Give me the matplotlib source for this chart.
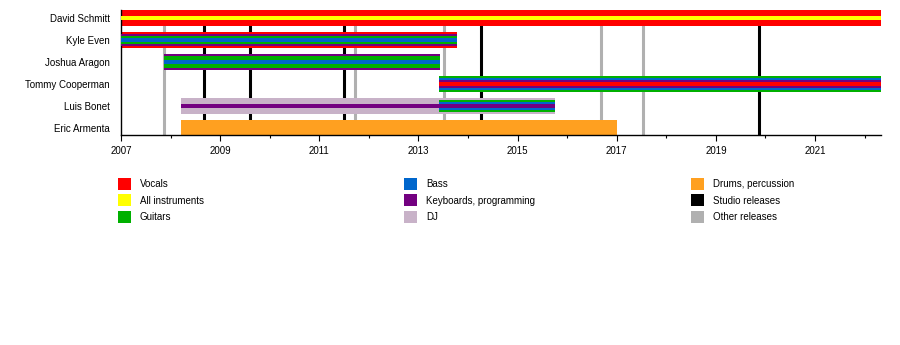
import matplotlib

matplotlib.use("Agg")
import matplotlib.pyplot as plt
from matplotlib.patches import Rectangle

plt.rcParams["font.family"] = ["Liberation Sans", "DejaVu Sans"]

# members, top to bottom
members = ["David Schmitt", "Kyle Even", "Joshua Aragon", "Tommy Cooperman", "Luis Bonet", "Eric Armenta"]

END = 2022.33

# stints per member, listed outer bar -> inner bar: (role, start, end)
stints = {
    "David Schmitt": [("Vocals", 2007.0, END), ("All instruments", 2007.0, END)],
    "Kyle Even": [("Vocals", 2007.0, 2013.77), ("Keyboards", 2007.0, 2013.77),
                  ("Guitars", 2007.0, 2013.77), ("Bass", 2007.0, 2013.77)],
    "Joshua Aragon": [("Keyboards", 2007.87, 2013.44), ("Guitars", 2007.87, 2013.44),
                      ("Bass", 2007.87, 2013.44)],
    "Tommy Cooperman": [("Guitars", 2013.42, END), ("Bass", 2013.42, END),
                        ("Keyboards", 2013.42, END), ("Vocals", 2013.42, END)],
    "Luis Bonet": [("DJ", 2008.21, 2015.76), ("Guitars", 2013.42, 2015.76),
                   ("Bass", 2013.42, 2015.76), ("Keyboards", 2008.21, 2015.76)],
    "Eric Armenta": [("Drums", 2008.21, 2017.0)],
}

studio_releases = [2008.68, 2009.61, 2011.50, 2014.27, 2019.86]
other_releases = [2007.87, 2011.73, 2013.51, 2016.69, 2017.52]

role_colors = {
    "Vocals": "#ff0000",
    "All instruments": "#ffff00",
    "Guitars": "#00b000",
    "Bass": "#0066cc",
    "Keyboards": "#730080",
    "DJ": "#c8b2c8",
    "Drums": "#ffa020",
}

legend_labels = ["Vocals", "All instruments", "Guitars", "Bass", "Keyboards, programming", "DJ",
                 "Drums, percussion", "Studio releases", "Other releases"]
legend_colors = ["#ff0000", "#ffff00", "#00b000", "#0066cc", "#730080", "#c8b2c8",
                 "#ffa020", "#000000", "#b0b0b0"]

layer_h = [0.74, 0.56, 0.39, 0.2]

fig = plt.figure(figsize=(9, 3.45), dpi=100)
W, H = 900, 345
ax = fig.add_axes([121 / W, 1 - 135 / H, (881 - 121) / W, (135 - 10) / H])

for x in studio_releases:
    ax.axvline(x, color="black", lw=2.2, zorder=1)
for x in other_releases:
    ax.axvline(x, color="#b0b0b0", lw=2.2, zorder=1)

for i, m in enumerate(members):
    rows = stints[m]
    n = len(rows)
    for k, (role, s, e) in enumerate(rows):
        # innermost role gets the thinnest stripe
        layer = 3 if (k == n - 1 and n > 1) else k
        ax.barh(i, e - s, left=s, height=layer_h[layer], color=role_colors[role],
                linewidth=0, zorder=2 + k)

ax.set_xlim(2007, END)
ax.set_ylim(5.32, -0.36)
ax.set_yticks(range(len(members)))
ax.set_yticklabels(members, fontsize=7)
ax.tick_params(axis="y", length=0, pad=8)
ax.set_xticks(range(2007, 2023, 2))
ax.set_xticks(range(2008, 2023, 2), minor=True)
ax.tick_params(axis="x", which="major", length=4, width=0.8, labelsize=7, pad=4)
ax.tick_params(axis="x", which="minor", length=2, width=0.8)
for side in ["top", "right"]:
    ax.spines[side].set_visible(False)
for side in ["left", "bottom"]:
    ax.spines[side].set_linewidth(1.0)

# legend, 3 columns x 3 rows
col_x = [118, 404, 691]
row_y = [184, 200.5, 217]
for j, (lab, col) in enumerate(zip(legend_labels, legend_colors)):
    cx = col_x[j // 3]
    cy = row_y[j % 3]
    fig.add_artist(Rectangle((cx / W, 1 - (cy + 6) / H), 12.5 / W, 12 / H,
                             transform=fig.transFigure, color=col, lw=0))
    fig.text((cx + 22) / W, 1 - cy / H, lab, fontsize=7, va="center", ha="left")

fig.savefig("out.png", dpi=100)
